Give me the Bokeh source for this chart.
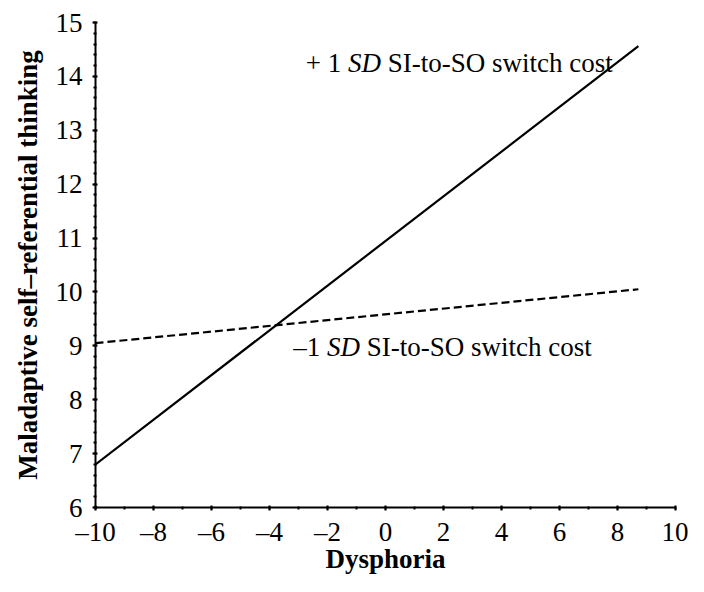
from bokeh.plotting import figure
from bokeh.models import SingleIntervalTicker
from bokeh.core.properties import value
from bokeh.embed import file_html
from bokeh.resources import INLINE

# ---- data ----
dysphoria = [-10, 8.72]
high_switch_cost = [6.8, 14.56]   # +1 SD SI-to-SO switch cost
low_switch_cost = [9.05, 10.05]   # -1 SD SI-to-SO switch cost

x_ticks = [-10, -8, -6, -4, -2, 0, 2, 4, 6, 8, 10]
x_tick_labels = ["\u201310", "\u20138", "\u20136", "\u20134", "\u20132", "0", "2", "4", "6", "8", "10"]
y_ticks = [6, 7, 8, 9, 10, 11, 12, 13, 14, 15]
y_tick_labels = ["6", "7", "8", "9", "10", "11", "12", "13", "14", "15"]

x_title = "Dysphoria"
y_title = "Maladaptive self\u2013referential thinking"

FONT = "Liberation Serif"
FS = 27

p = figure(width=688, height=576, x_range=(-10, 10), y_range=(6, 15),
           output_backend="svg", toolbar_location=None,
           min_border_left=95, min_border_right=13, min_border_top=22, min_border_bottom=60)
p.outline_line_color = None
p.xgrid.visible = False
p.ygrid.visible = False
p.background_fill_color = "white"

p.line(dysphoria, high_switch_cost, line_color="black", line_width=2.2)
p.line(dysphoria, low_switch_cost, line_color="black", line_width=2.2, line_dash="8 4")

# annotations (regular + italic pieces)
def annot(x, y, parts):
    for txt, off, style in parts:
        p.text(x=[x], y=[y], text=[txt], x_offset=off, text_font=value(FONT),
               text_font_size=f"{FS}px", text_font_style=style, text_color="black",
               text_baseline="alphabetic", text_align="left")

em = FS
annot(-2.75, 14.24, [("+ 1", 0, "normal"), ("SD", 1.564 * em, "italic"),
                     ("SI-to-SO switch cost", 3.036 * em, "normal")])
annot(-3.18, 8.98, [("\u20131", 0, "normal"), ("SD", 1.25 * em, "italic"),
                    ("SI-to-SO switch cost", 2.722 * em, "normal")])

# axes
xa = p.xaxis[0]
xa.ticker = SingleIntervalTicker(interval=2, num_minor_ticks=2)
xa.major_label_overrides = {t: l for t, l in zip(x_ticks, x_tick_labels)}
ya = p.yaxis[0]
ya.ticker = SingleIntervalTicker(interval=1, num_minor_ticks=5)
ya.major_label_overrides = {t: l for t, l in zip(y_ticks, y_tick_labels)}

xa.axis_label = x_title
ya.axis_label = y_title

for ax in (xa, ya):
    ax.axis_line_width = 2
    ax.axis_line_color = "black"
    ax.major_tick_line_color = "black"
    ax.major_tick_line_width = 2
    ax.minor_tick_line_color = "black"
    ax.minor_tick_line_width = 2
    ax.major_tick_in = 2
    ax.major_tick_out = 3
    ax.minor_tick_in = 1
    ax.minor_tick_out = 2
    ax.major_label_text_font = FONT
    ax.major_label_text_font_size = f"{FS}px"
    ax.major_label_text_color = "black"
    ax.axis_label_text_font = FONT
    ax.axis_label_text_font_size = f"{FS}px"
    ax.axis_label_text_font_style = "bold"
    ax.axis_label_text_color = "black"

xa.major_label_standoff = 6
xa.axis_label_standoff = -6
ya.major_label_standoff = 10
ya.axis_label_standoff = 10
ya.major_label_orientation = "horizontal"

open("out.html", "w").write(file_html(p, INLINE))
